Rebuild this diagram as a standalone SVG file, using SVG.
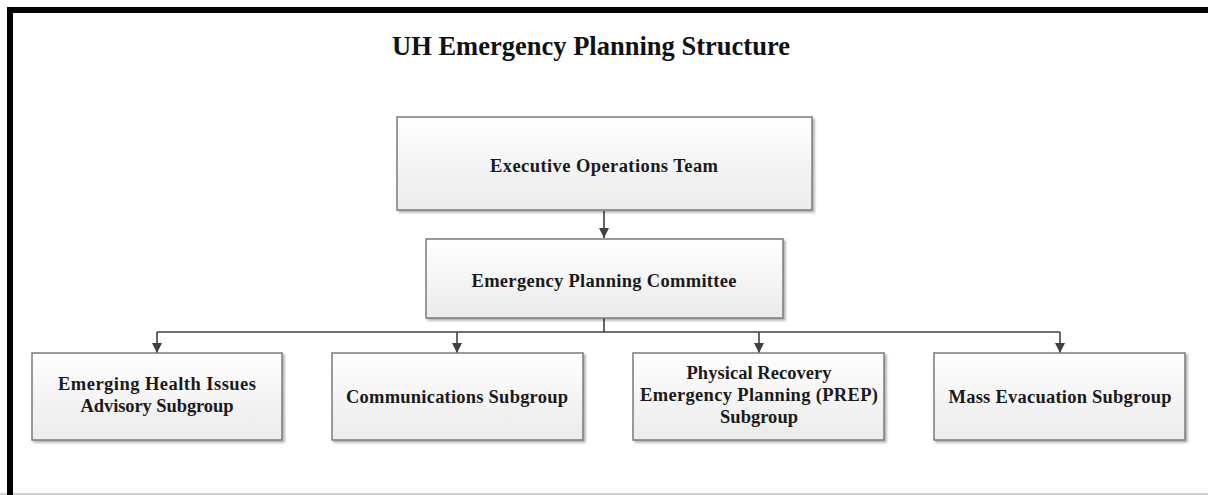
<svg xmlns="http://www.w3.org/2000/svg" width="1208" height="495" viewBox="0 0 1208 495">
<style>
.box{fill:url(#g);stroke:#7a7a7a;stroke-width:1.5;filter:url(#sh)}
.t{font-family:"Liberation Serif","Times New Roman",serif;font-weight:bold;font-size:18.5px;fill:#1a1a1a;text-anchor:middle}
.title{font-family:"Liberation Serif","Times New Roman",serif;font-weight:bold;font-size:26.5px;fill:#111;text-anchor:middle}
.c{fill:none;stroke:#404040;stroke-width:1.6}
</style>
<defs>
<linearGradient id="g" x1="0" y1="0" x2="0" y2="1">
<stop offset="0" stop-color="#ffffff"/>
<stop offset="1" stop-color="#ebebeb"/>
</linearGradient>
<filter id="sh" x="-5%" y="-5%" width="115%" height="125%">
<feDropShadow dx="2" dy="2" stdDeviation="1.2" flood-color="#000" flood-opacity="0.3"/>
</filter>
<marker id="ah" viewBox="0 0 10 10" refX="10" refY="5" markerWidth="10" markerHeight="10" markerUnits="userSpaceOnUse" orient="auto">
<path d="M0,0 L10,5 L0,10 z" fill="#404040"/>
</marker>
</defs>
<rect x="0" y="0" width="1208" height="495" fill="#fff"/>
<line x1="0" y1="494" x2="1208" y2="494" stroke="#c0c0c0" stroke-width="1.5"/>
<path d="M10,495 L10,10 L1210,10" fill="none" stroke="#000" stroke-width="6"/>
<text class="title" x="591" y="55" textLength="398" lengthAdjust="spacing">UH Emergency Planning Structure</text>
<g id="connectors">
<line class="c" x1="604" y1="211" x2="604" y2="238" marker-end="url(#ah)"/>
<line class="c" x1="604" y1="318" x2="604" y2="332"/>
<line class="c" x1="157" y1="332" x2="1060" y2="332"/>
<line class="c" x1="157" y1="332" x2="157" y2="353" marker-end="url(#ah)"/>
<line class="c" x1="457" y1="332" x2="457" y2="353" marker-end="url(#ah)"/>
<line class="c" x1="759" y1="332" x2="759" y2="353" marker-end="url(#ah)"/>
<line class="c" x1="1060" y1="332" x2="1060" y2="353" marker-end="url(#ah)"/>
</g>
<g id="exec">
<rect class="box" x="397" y="117" width="415" height="93"/>
<text class="t" x="604" y="172" textLength="228" lengthAdjust="spacing">Executive Operations Team</text>
</g>
<g id="committee">
<rect class="box" x="426" y="239" width="357" height="79"/>
<text class="t" x="604" y="287" textLength="265" lengthAdjust="spacing">Emergency Planning Committee</text>
</g>
<g id="health">
<rect class="box" x="32" y="353" width="250" height="87"/>
<text class="t" x="157" y="390" textLength="198" lengthAdjust="spacing">Emerging Health Issues</text>
<text class="t" x="157" y="412" textLength="153" lengthAdjust="spacing">Advisory Subgroup</text>
</g>
<g id="comms">
<rect class="box" x="332" y="353" width="251" height="87"/>
<text class="t" x="457" y="403" textLength="222" lengthAdjust="spacing">Communications Subgroup</text>
</g>
<g id="prep">
<rect class="box" x="633" y="353" width="251" height="87"/>
<text class="t" x="759" y="379" textLength="145" lengthAdjust="spacing">Physical Recovery</text>
<text class="t" x="759" y="401" textLength="238" lengthAdjust="spacing">Emergency Planning (PREP)</text>
<text class="t" x="759" y="423" textLength="78" lengthAdjust="spacing">Subgroup</text>
</g>
<g id="mass">
<rect class="box" x="934" y="353" width="251" height="87"/>
<text class="t" x="1060" y="403" textLength="223" lengthAdjust="spacing">Mass Evacuation Subgroup</text>
</g>
</svg>
